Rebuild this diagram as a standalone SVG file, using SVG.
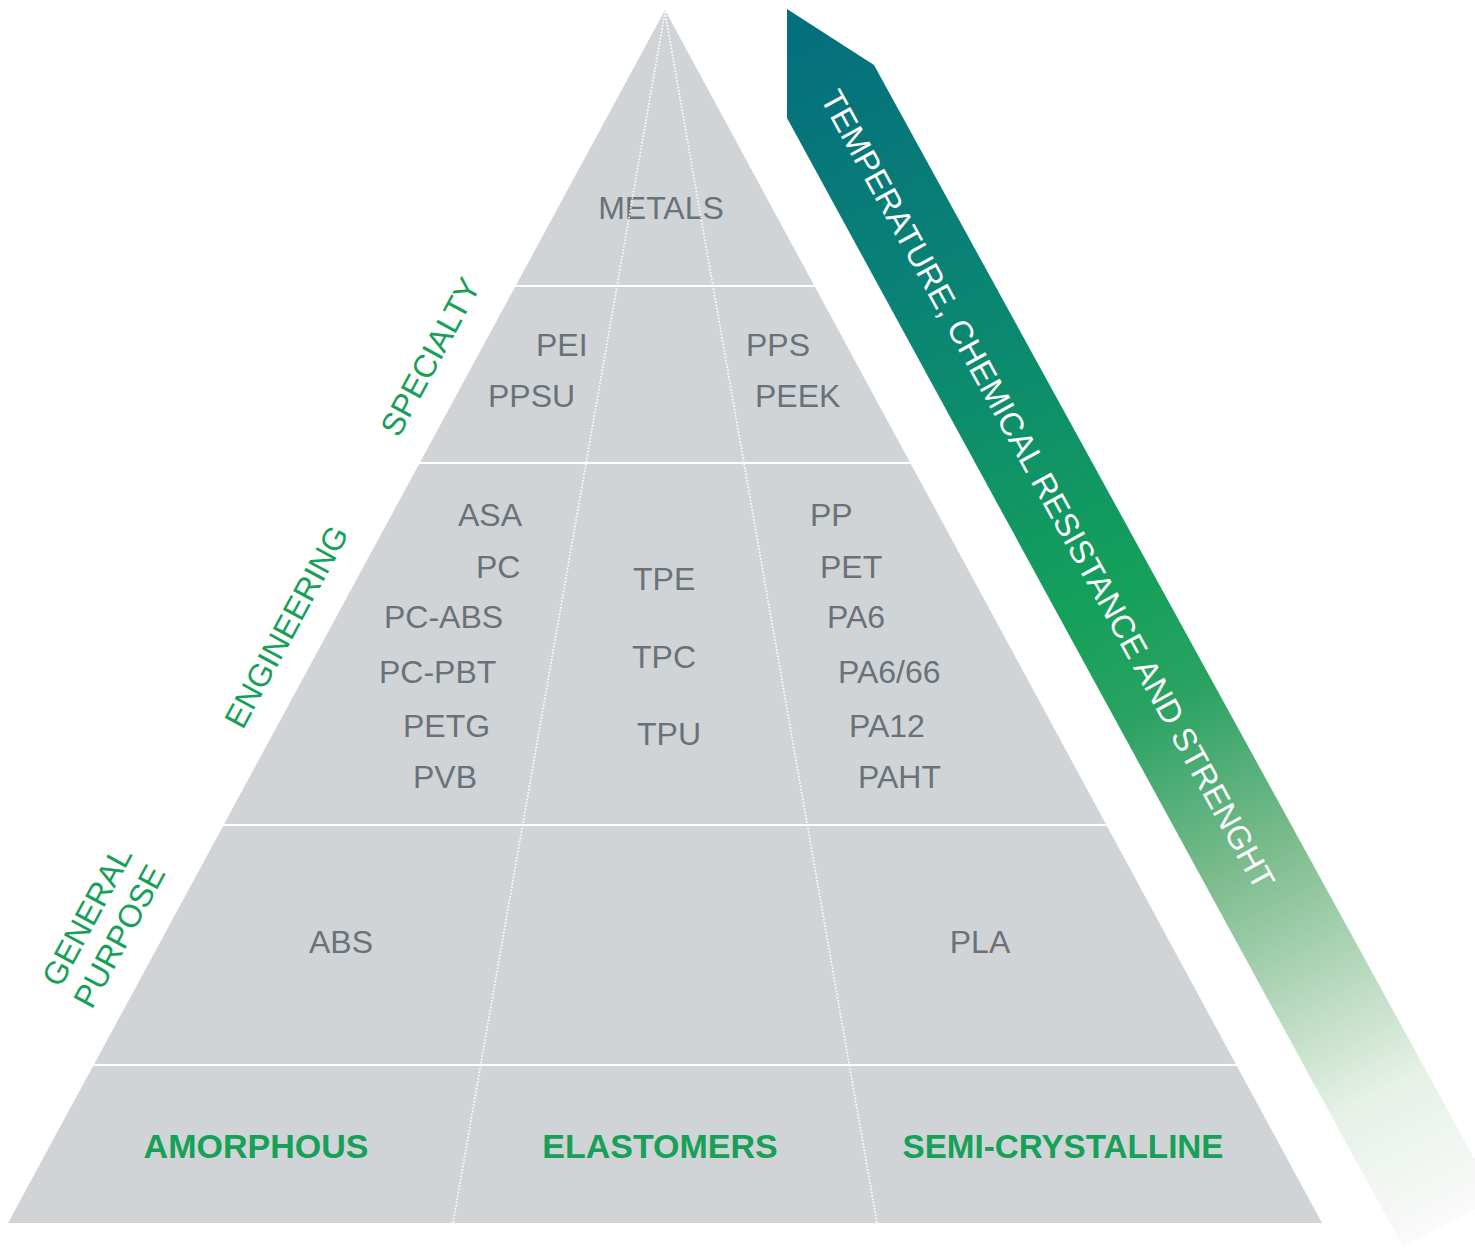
<svg xmlns="http://www.w3.org/2000/svg" width="1475" height="1248" viewBox="0 0 1475 1248">
<defs>
<linearGradient id="arrowGrad" gradientUnits="userSpaceOnUse" x1="830" y1="30" x2="1445" y2="1225">
<stop offset="0" stop-color="#05707d"/>
<stop offset="0.22" stop-color="#0a8474"/>
<stop offset="0.47" stop-color="#15a05a"/>
<stop offset="0.56" stop-color="#2aa262"/>
<stop offset="0.69" stop-color="#7abb8c"/>
<stop offset="0.8" stop-color="#b6d8bc"/>
<stop offset="0.89" stop-color="#e6f1e7"/>
<stop offset="1" stop-color="#fafafa"/>
</linearGradient>
</defs>
<style>
.band{fill:#d1d4d7}
.lbl{font-family:"Liberation Sans",Arial,sans-serif;font-size:32px;fill:#6a7279}
.cat{font-family:"Liberation Sans",Arial,sans-serif;font-size:34px;font-weight:bold;fill:#16a058;text-anchor:middle}
.side{font-family:"Liberation Sans",Arial,sans-serif;font-size:32px;fill:#16a058;text-anchor:middle}
.arrowtxt{font-family:"Liberation Sans",Arial,sans-serif;font-size:32.5px;fill:#ffffff;text-anchor:middle}
.dot{stroke:#ffffff;stroke-width:1.7;stroke-dasharray:1.5 1.8;fill:none}
</style>
<rect width="1475" height="1248" fill="#ffffff"/>

<g id="arrow">
<polygon points="787,9 874,65 1496,1198 1403,1247 787,118" fill="url(#arrowGrad)"/>
<text class="arrowtxt" transform="translate(1038,495) rotate(61.2)">TEMPERATURE, CHEMICAL RESISTANCE AND STRENGHT</text>
</g>

<g id="band-metals">
<polygon class="band" points="665,10 813.9,285 516.1,285"/>
<text class="lbl" x="661" y="219" text-anchor="middle">METALS</text>
</g>

<g id="band-specialty">
<polygon class="band" points="515,287 815,287 909.8,462 420.2,462"/>
<text class="lbl" x="536" y="356">PEI</text>
<text class="lbl" x="488" y="407">PPSU</text>
<text class="lbl" x="746" y="356">PPS</text>
<text class="lbl" x="755" y="407">PEEK</text>
</g>

<g id="band-engineering">
<polygon class="band" points="419.1,464 910.9,464 1105.9,824 224.1,824"/>
<text class="lbl" x="458" y="526">ASA</text>
<text class="lbl" x="476" y="578">PC</text>
<text class="lbl" x="384" y="628">PC-ABS</text>
<text class="lbl" x="379" y="683">PC-PBT</text>
<text class="lbl" x="403" y="737">PETG</text>
<text class="lbl" x="413" y="788">PVB</text>
<text class="lbl" x="633" y="590">TPE</text>
<text class="lbl" x="632" y="668">TPC</text>
<text class="lbl" x="637" y="745">TPU</text>
<text class="lbl" x="810" y="526">PP</text>
<text class="lbl" x="820" y="578">PET</text>
<text class="lbl" x="827" y="628">PA6</text>
<text class="lbl" x="838" y="683">PA6/66</text>
<text class="lbl" x="849" y="737">PA12</text>
<text class="lbl" x="858" y="788">PAHT</text>
</g>

<g id="band-general">
<polygon class="band" points="223.1,826 1106.9,826 1235.8,1064 94.2,1064"/>
<text class="lbl" x="341" y="953" text-anchor="middle">ABS</text>
<text class="lbl" x="980" y="953" text-anchor="middle">PLA</text>
</g>

<g id="band-categories">
<polygon class="band" points="93.1,1066 1236.9,1066 1322,1223 8,1223"/>
<text class="cat" x="256" y="1158">AMORPHOUS</text>
<text class="cat" x="660" y="1158">ELASTOMERS</text>
<text class="cat" x="1063" y="1158" textLength="321" lengthAdjust="spacingAndGlyphs">SEMI-CRYSTALLINE</text>
</g>

<g id="dividers">
<line class="dot" x1="665" y1="12" x2="453" y2="1223"/>
<line class="dot" x1="665" y1="12" x2="877" y2="1223"/>
</g>

<g id="side-labels">
<text class="side" transform="translate(440,362) rotate(-61.6)">SPECIALTY</text>
<text class="side" transform="translate(296,632) rotate(-61.6)">ENGINEERING</text>
<text class="side" transform="translate(96.5,921.5) rotate(-61.6)">GENERAL</text>
<text class="side" transform="translate(129,941.5) rotate(-61.6)">PURPOSE</text>
</g>
</svg>
